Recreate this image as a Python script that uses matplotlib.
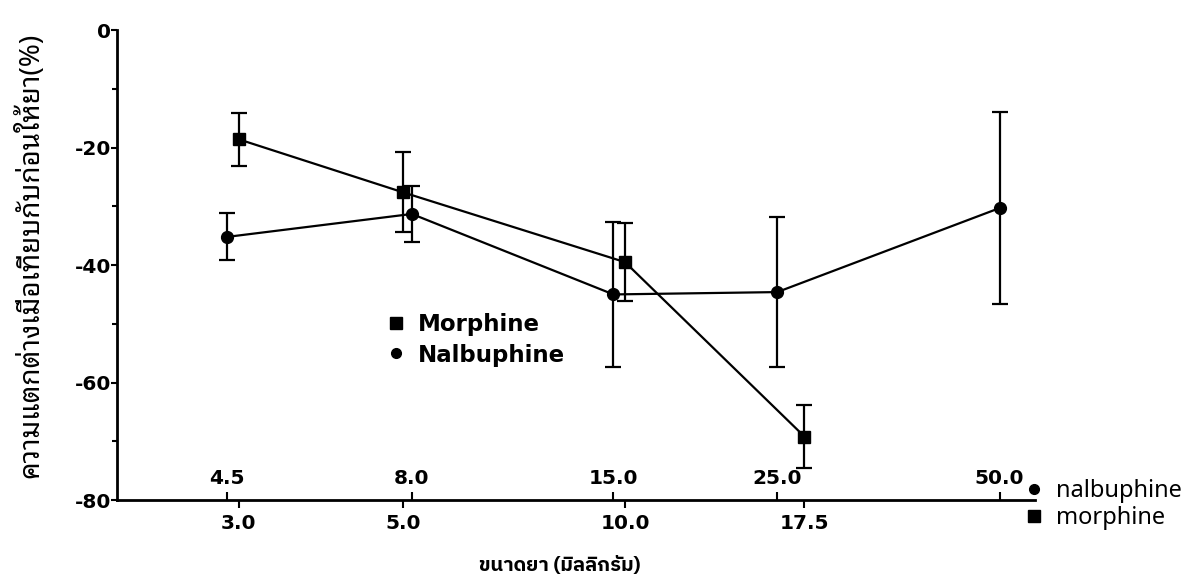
import numpy as np
import matplotlib
matplotlib.use("Agg")
import matplotlib.pyplot as plt
from matplotlib.lines import Line2D
from matplotlib import font_manager

# % change from pre-dose value, mean and error bar half-length
nalbuphine_dose = [4.5, 8.0, 15.0, 25.0, 50.0]
nalbuphine_mean = [-35.2, -31.3, -45.0, -44.6, -30.3]
nalbuphine_err = [4.0, 4.8, 12.3, 12.8, 16.3]

morphine_dose = [3.0, 5.0, 10.0, 17.5]
morphine_mean = [-18.6, -27.6, -39.5, -69.2]
morphine_err = [4.5, 6.8, 6.7, 5.3]

y_ticks = [0, -20, -40, -60, -80]
y_minor = [-10, -30, -50, -70]

# morphine doses share the nalbuphine log axis, shifted by this ratio
MORPHINE_SHIFT = 1.555

plt.rcParams["axes.unicode_minus"] = False


def pick_font(preferred):
    installed = {f.name for f in font_manager.fontManager.ttflist}
    for name in preferred:
        if name in installed:
            return [name, "DejaVu Sans"]
    return ["DejaVu Sans"]


def main():
    looped = pick_font(["Noto Sans Thai Looped", "IBM Plex Sans Thai Looped",
                        "Noto Sans Thai"])
    loopless = pick_font(["IBM Plex Sans Thai", "Noto Sans Thai UI",
                          "Noto Sans Thai"])

    fig, ax = plt.subplots(figsize=(11.99, 5.79), dpi=100)
    fig.subplots_adjust(left=0.0976, right=0.863, bottom=0.1364, top=0.948)

    ax.set_xscale("log")
    style = dict(color="black", lw=1.6, elinewidth=1.6, capsize=5.5,
                 capthick=1.6)
    ax.errorbar(nalbuphine_dose, nalbuphine_mean, yerr=nalbuphine_err,
                marker="o", ms=8.5, **style)
    ax.errorbar(np.array(morphine_dose) * MORPHINE_SHIFT, morphine_mean,
                yerr=morphine_err, marker="s", ms=9, **style)

    ax.set_xlim(3.19, 55.8)
    ax.set_ylim(-80, 0)

    # nalbuphine doses above the axis line, morphine doses below it
    ax.xaxis.set_minor_locator(matplotlib.ticker.NullLocator())
    ax.set_xticks(nalbuphine_dose, labels=[f"{d:.1f}" for d in nalbuphine_dose])
    ax.set_xticks(np.array(morphine_dose) * MORPHINE_SHIFT,
                  labels=[f"{d:.1f}" for d in morphine_dose], minor=True)
    ax.tick_params(axis="x", which="major", direction="in", length=6,
                   width=1.5, pad=-22, labelsize=14.5)
    ax.tick_params(axis="x", which="minor", direction="out", length=6,
                   width=1.5, pad=4, labelsize=14.5)
    for lab in ax.get_xticklabels(which="both"):
        lab.set_fontweight("bold")

    ax.set_yticks(y_ticks)
    ax.set_yticks(y_minor, minor=True)
    ax.tick_params(axis="y", which="major", length=4, width=1.5, pad=0.5,
                   labelsize=14.5)
    ax.tick_params(axis="y", which="minor", length=3.5, width=1.5)
    for lab in ax.get_yticklabels():
        lab.set_fontweight("bold")

    for side in ["top", "right"]:
        ax.spines[side].set_visible(False)
    for side in ["left", "bottom"]:
        ax.spines[side].set_linewidth(2)

    # legend inside the plot
    square = Line2D([], [], color="black", marker="s", ls="none", ms=8)
    circle = Line2D([], [], color="black", marker="o", ls="none", ms=7)
    ax.legend([square, circle], ["Morphine", "Nalbuphine"], loc="upper left",
              bbox_to_anchor=(378 / 1199, 1 - 304 / 579),
              bbox_transform=fig.transFigure, frameon=False,
              handlelength=0.8, handletextpad=0.55, labelspacing=0.32,
              borderaxespad=0, prop={"weight": "bold", "size": 16.5})

    # legend outside on the right
    fig.legend([circle, square], ["nalbuphine", "morphine"], loc="upper left",
               bbox_to_anchor=(1015 / 1199, 1 - 470 / 579), frameon=False,
               handlelength=0.8, handletextpad=0.55, labelspacing=0.12,
               borderaxespad=0, prop={"family": "Noto Sans", "size": 17})

    fig.text(560 / 1199, 1 - 566 / 579, "ขนาดยา (มิลลิกรัม)", ha="center",
             va="center", fontsize=14.5, fontweight="bold", family=loopless)
    fig.text(30 / 1199, 1 - 255 / 579, "ความแตกต่างเมื่อเทียบกับก่อนให้ยา(%)",
             rotation=90, ha="center", va="center", fontsize=20,
             fontweight="bold", family=looped)

    fig.savefig("out.png", dpi=100)


if __name__ == "__main__":
    main()
